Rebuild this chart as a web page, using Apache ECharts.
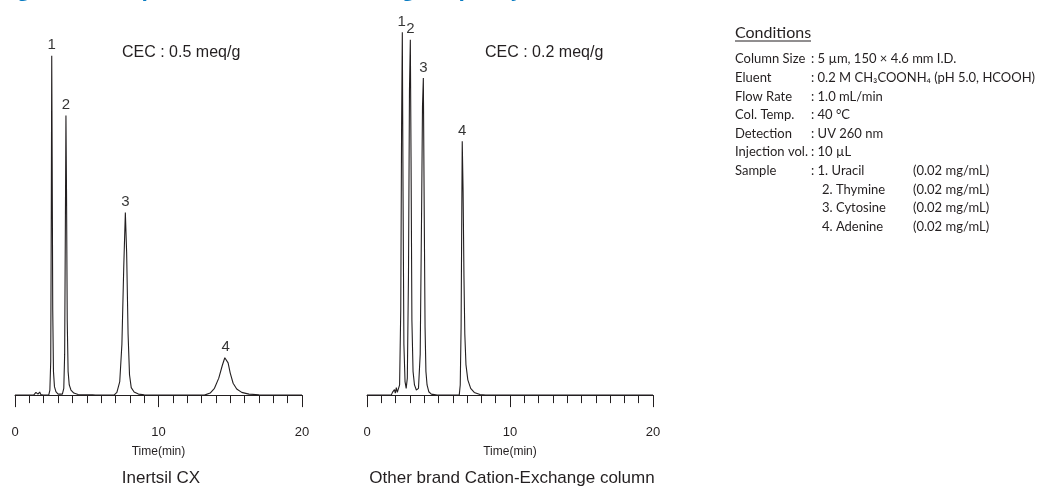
<!DOCTYPE html>
<html>
<head>
<meta charset="utf-8">
<script src="https://cdn.jsdelivr.net/npm/echarts@6/dist/echarts.min.js"></script>
<style>
html,body{margin:0;padding:0;background:#fff;}
#chart{width:1048px;height:489px;}
</style>
</head>
<body>
<div id="chart"></div>
<script>
// ---- data (time in min, signal in relative units) ----
var inertsilTrace = [
  [0,0],[1.3,0],[1.4,0.5],[1.46,0.8],[1.52,0.3],[1.6,0.3],[1.72,0.9],[1.8,0.2],[1.95,0],
  [2.35,0],[2.43,1.5],[2.49,10],[2.53,55],[2.56,100],[2.59,70],[2.63,25],[2.68,7],[2.75,2.5],[2.85,1],[3.0,0.3],
  [3.3,0.3],[3.4,2],[3.46,12],[3.51,50],[3.55,82.4],[3.59,60],[3.64,22],[3.7,7],[3.78,3],[3.9,1.5],[4.1,0.6],[4.4,0.2],
  [5.2,0.1],[5.32,0.5],[5.4,0.1],[5.6,0],
  [6.9,0],[7.1,0.8],[7.3,4],[7.45,15],[7.58,38],[7.69,53.8],[7.78,42],[7.88,18],[7.98,6],[8.1,2.2],[8.3,0.9],[8.6,0.3],[9,0.1],
  [13.2,0],[13.6,0.6],[13.9,2],[14.2,5],[14.45,8.8],[14.62,11],[14.72,11.2],[14.85,9.5],[15.0,6.5],[15.2,3.5],[15.45,1.8],[15.8,0.8],[16.3,0.3],[17,0.1],[20,0]
];
var otherTrace = [
  [0,0],[1.7,0],[1.78,0.8],[1.85,0.3],[1.92,1.6],[1.98,0.6],[2.05,2.2],[2.12,0.8],[2.2,1.2],[2.28,3],
  [2.36,25],[2.42,80],[2.47,106.9],[2.52,60],[2.58,15],[2.66,4],[2.74,2],
  [2.82,5],[2.9,35],[2.97,90],[3.03,104.7],[3.08,70],[3.14,22],[3.22,7],[3.32,3],[3.45,1.5],
  [3.6,2],[3.72,12],[3.82,55],[3.88,85],[3.94,93.4],[4.0,55],[4.06,20],[4.12,7],[4.2,3],[4.32,1],[4.5,0.3],[4.9,0],
  [6.45,0],[6.52,3],[6.58,20],[6.63,55],[6.66,74.8],[6.72,60],[6.78,35],[6.84,18],[6.92,9],[7.05,4.5],[7.25,2],[7.5,0.8],[7.9,0.2],[8.3,0],[20,0]
];
var peakNames = ['1','2','3','4'];
var inertsilPeaks = [[2.56,100],[3.55,82.4],[7.69,53.8],[14.68,11.2]];
var otherPeaks = [[2.42,106.9],[3.03,104.7],[3.94,93.4],[6.66,74.8]];
var chartTitles = ['Inertsil CX','Other brand Cation-Exchange column'];
var cecLabels = ['CEC : 0.5 meq/g','CEC : 0.2 meq/g'];
var xTicks = [0,10,20];
var condLabels = ['Column Size','Eluent','Flow Rate','Col. Temp.','Detection','Injection vol.','Sample'];
var condValues = [': 5 µm, 150 × 4.6 mm I.D.',': 0.2 M CH₃COONH₄ (pH 5.0, HCOOH)',': 1.0 mL/min',': 40 °C',': UV 260 nm',': 10 µL',': 1. Uracil'];
var sampleNames = ['2. Thymine','3. Cytosine','4. Adenine'];
var sampleConc = ['(0.02 mg/mL)','(0.02 mg/mL)','(0.02 mg/mL)','(0.02 mg/mL)'];
var figTitle = 'Figure 1. Comparison of Cation-Exchange Capacity';

// ---- chart ----
var INK = '#231f20';
var FONT = '"Liberation Sans", Arial, sans-serif';
var CFONT = 'Lato, "Open Sans", sans-serif';
var chart = echarts.init(document.getElementById('chart'), null, {renderer:'canvas'});

function xAx(i){
  return {
    gridIndex:i, type:'value', min:xTicks[0], max:xTicks[xTicks.length-1], interval:10,
    name:'Time(min)', nameLocation:'middle', nameGap:39,
    nameTextStyle:{color:INK, fontSize:12, fontFamily:FONT},
    axisLine:{show:true, lineStyle:{color:INK, width:1}},
    axisTick:{show:true, length:12, lineStyle:{color:INK, width:1}},
    minorTick:{show:true, splitNumber:10, length:8, lineStyle:{color:INK, width:1}},
    axisLabel:{color:INK, fontSize:13, margin:19, fontFamily:FONT},
    splitLine:{show:false}
  };
}
function yAx(i){
  return {gridIndex:i, type:'value', min:-3.5, max:110.5, show:false, splitLine:{show:false}};
}
function labelSeries(i, pts){
  return {
    type:'scatter', xAxisIndex:i, yAxisIndex:i, symbolSize:0, silent:true,
    data: pts.map(function(p,k){return {value:p, name:peakNames[k]};}),
    label:{show:true, position:'top', distance:3, formatter:'{b}', color:'#000', fontSize:15, fontFamily:FONT}
  };
}

var graphics = [];
graphics.push({type:'text', x:0, y:1, style:{text:figTitle, fill:'#0a7cc2', font:'bold 21px "Open Sans", sans-serif', textVerticalAlign:'bottom'}});
graphics.push({type:'text', x:122, y:53, style:{text:cecLabels[0], fill:INK, font:'16px '+FONT, textVerticalAlign:'middle'}});
graphics.push({type:'text', x:485, y:53, style:{text:cecLabels[1], fill:INK, font:'16px '+FONT, textVerticalAlign:'middle'}});
graphics.push({type:'text', x:161, y:478, style:{text:chartTitles[0], fill:INK, font:'17px '+FONT, textAlign:'center', textVerticalAlign:'middle'}});
graphics.push({type:'text', x:512, y:478, style:{text:chartTitles[1], fill:INK, font:'17px '+FONT, textAlign:'center', textVerticalAlign:'middle'}});
// conditions
graphics.push({type:'text', x:735, y:33, style:{text:'Conditions', fill:INK, font:'16px '+CFONT, textVerticalAlign:'middle'}});
graphics.push({type:'line', shape:{x1:735, y1:41, x2:811, y2:41}, style:{stroke:INK, lineWidth:1}});
var rowY0 = 59.3, rowH = 18.6;
condLabels.forEach(function(t,i){
  graphics.push({type:'text', x:735, y:rowY0+i*rowH, style:{text:t, fill:INK, font:'13px '+CFONT, textVerticalAlign:'middle'}});
  graphics.push({type:'text', x:811, y:rowY0+i*rowH, style:{text:condValues[i], fill:INK, font:'13px '+CFONT, textVerticalAlign:'middle'}});
});
sampleNames.forEach(function(t,i){
  graphics.push({type:'text', x:822, y:rowY0+(7+i)*rowH, style:{text:t, fill:INK, font:'13px '+CFONT, textVerticalAlign:'middle'}});
});
sampleConc.forEach(function(t,i){
  graphics.push({type:'text', x:913, y:rowY0+(6+i)*rowH, style:{text:t, fill:INK, font:'13px '+CFONT, textVerticalAlign:'middle'}});
});

chart.setOption({
  animation:false,
  backgroundColor:'#ffffff',
  grid:[
    {left:15, width:287, top:20, bottom:82},
    {left:367, width:286, top:20, bottom:82}
  ],
  xAxis:[xAx(0), xAx(1)],
  yAxis:[yAx(0), yAx(1)],
  series:[
    {type:'line', xAxisIndex:0, yAxisIndex:0, data:inertsilTrace, showSymbol:false, smooth:false,
     lineStyle:{color:INK, width:1.1}},
    {type:'line', xAxisIndex:1, yAxisIndex:1, data:otherTrace, showSymbol:false, smooth:false,
     lineStyle:{color:INK, width:1.1}},
    labelSeries(0, inertsilPeaks),
    labelSeries(1, otherPeaks)
  ],
  graphic:graphics
});
</script>
</body>
</html>
